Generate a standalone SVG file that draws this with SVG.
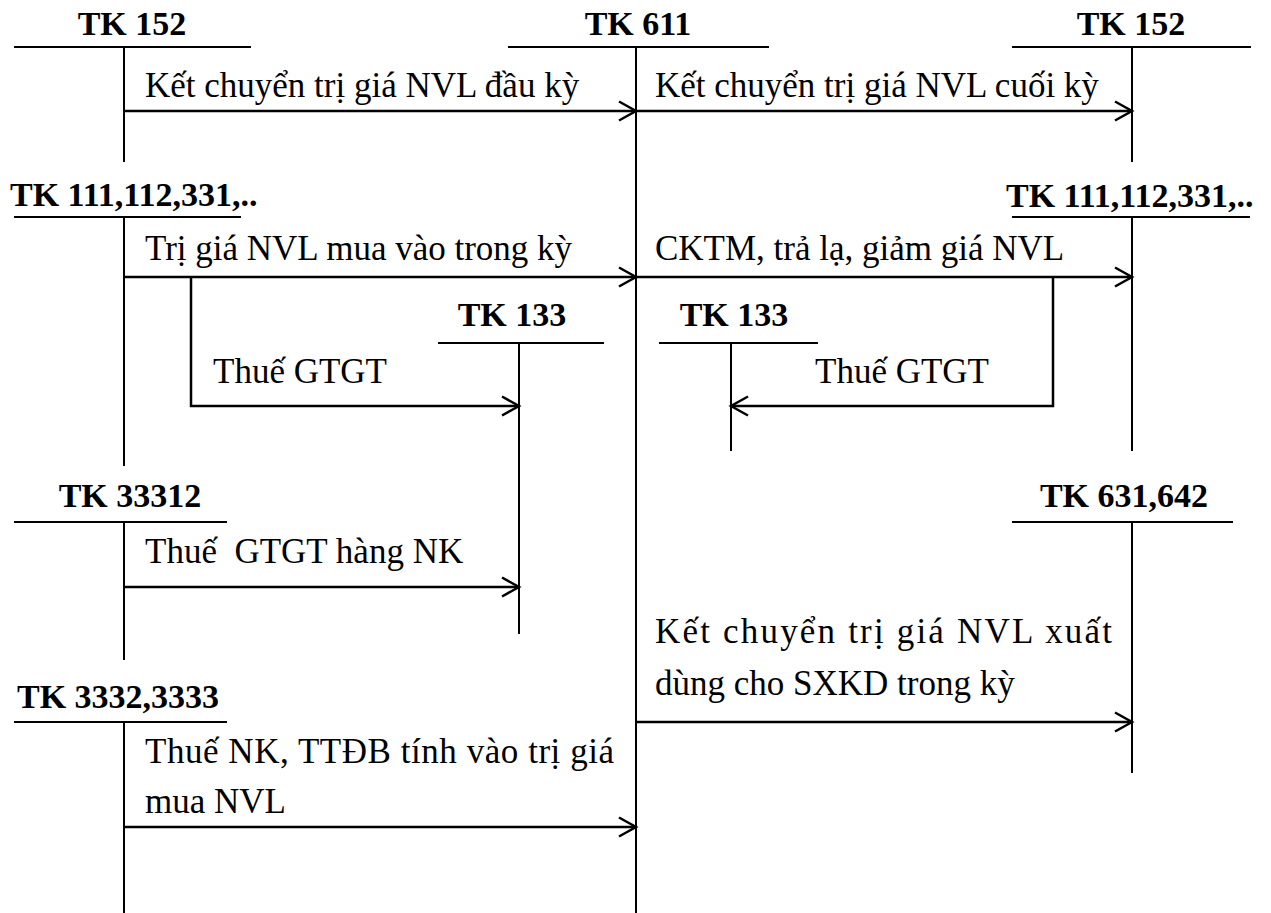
<svg xmlns="http://www.w3.org/2000/svg" width="1271" height="913" viewBox="0 0 1271 913">
<style>
.ln{stroke:#000;stroke-width:2;fill:none}
.cn{stroke:#000;stroke-width:2.5;fill:none;marker-end:url(#arr)}
.hd{font-family:"Liberation Serif","Times New Roman",serif;font-weight:bold;font-size:34px;fill:#000}
.lb{font-family:"Liberation Serif","Times New Roman",serif;font-size:35px;fill:#000;white-space:pre}
</style>
<defs>
<marker id="arr" markerUnits="userSpaceOnUse" markerWidth="22" markerHeight="24" refX="18" refY="11" orient="auto">
<path d="M1,1.5 L18,11 L1,20.5" stroke="#000" stroke-width="2.5" fill="none"/>
</marker>
</defs>
<rect width="1271" height="913" fill="#fff"/>
<g id="tk152-left">
<text class="hd" x="132" y="35" text-anchor="middle">TK 152</text>
<line class="ln" x1="14" y1="47" x2="251" y2="47"/>
<line class="ln" x1="124" y1="47" x2="124" y2="162"/>
</g>
<g id="tk611">
<text class="hd" x="638" y="35" text-anchor="middle">TK 611</text>
<line class="ln" x1="508" y1="47" x2="769" y2="47"/>
<line class="ln" x1="636" y1="47" x2="636" y2="913"/>
</g>
<g id="tk152-right">
<text class="hd" x="1131" y="35" text-anchor="middle">TK 152</text>
<line class="ln" x1="1012" y1="47" x2="1251" y2="47"/>
<line class="ln" x1="1132" y1="47" x2="1132" y2="162"/>
</g>
<g id="tk111-left">
<text class="hd" x="10" y="206">TK 111,112,331,..</text>
<line class="ln" x1="14" y1="217" x2="241" y2="217"/>
<line class="ln" x1="124" y1="217" x2="124" y2="466"/>
</g>
<g id="tk111-right">
<text class="hd" x="1006" y="207">TK 111,112,331,..</text>
<line class="ln" x1="1012" y1="217" x2="1250" y2="217"/>
<line class="ln" x1="1132" y1="217" x2="1132" y2="451"/>
</g>
<g id="tk133-left">
<text class="hd" x="512" y="326" text-anchor="middle">TK 133</text>
<line class="ln" x1="438" y1="343" x2="604" y2="343"/>
<line class="ln" x1="519" y1="343" x2="519" y2="634"/>
</g>
<g id="tk133-right">
<text class="hd" x="734" y="326" text-anchor="middle">TK 133</text>
<line class="ln" x1="659" y1="343" x2="818" y2="343"/>
<line class="ln" x1="731" y1="343" x2="731" y2="451"/>
</g>
<g id="tk33312">
<text class="hd" x="130" y="507" text-anchor="middle">TK 33312</text>
<line class="ln" x1="14" y1="522" x2="227" y2="522"/>
<line class="ln" x1="124" y1="522" x2="124" y2="660"/>
</g>
<g id="tk631642">
<text class="hd" x="1124" y="507" text-anchor="middle">TK 631,642</text>
<line class="ln" x1="1012" y1="522" x2="1233" y2="522"/>
<line class="ln" x1="1132" y1="522" x2="1132" y2="773"/>
</g>
<g id="tk33323333">
<text class="hd" x="17" y="708">TK 3332,3333</text>
<line class="ln" x1="14" y1="722" x2="227" y2="722"/>
<line class="ln" x1="124" y1="722" x2="124" y2="913"/>
</g>
<g id="connectors">
<line class="cn" x1="124" y1="111" x2="636" y2="111"/>
<line class="cn" x1="636" y1="111" x2="1132" y2="111"/>
<line class="cn" x1="124" y1="277" x2="636" y2="277"/>
<line class="cn" x1="636" y1="277" x2="1132" y2="277"/>
<polyline class="cn" points="191,277 191,406 519,406"/>
<polyline class="cn" points="1053,277 1053,406 731,406"/>
<line class="cn" x1="124" y1="587" x2="519" y2="587"/>
<line class="cn" x1="124" y1="827" x2="636" y2="827"/>
<line class="cn" x1="636" y1="722" x2="1132" y2="722"/>
</g>
<g id="labels">
<text class="lb" x="145" y="97">Kết chuyển trị giá NVL đầu kỳ</text>
<text class="lb" x="655" y="97">Kết chuyển trị giá NVL cuối kỳ</text>
<text class="lb" x="145" y="260">Trị giá NVL mua vào trong kỳ</text>
<text class="lb" x="655" y="260">CKTM, trả lạ, giảm giá NVL</text>
<text class="lb" x="213" y="383">Thuế GTGT</text>
<text class="lb" x="815" y="383">Thuế GTGT</text>
<text class="lb" x="145" y="563">Thuế  GTGT hàng NK</text>
<text class="lb" x="145" y="763" textLength="469" lengthAdjust="spacing">Thuế NK, TTĐB tính vào trị giá</text>
<text class="lb" x="145" y="813">mua NVL</text>
<text class="lb" x="655" y="643" textLength="457" lengthAdjust="spacing">Kết chuyển trị giá NVL xuất</text>
<text class="lb" x="655" y="695">dùng cho SXKD trong kỳ</text>
</g>
</svg>
